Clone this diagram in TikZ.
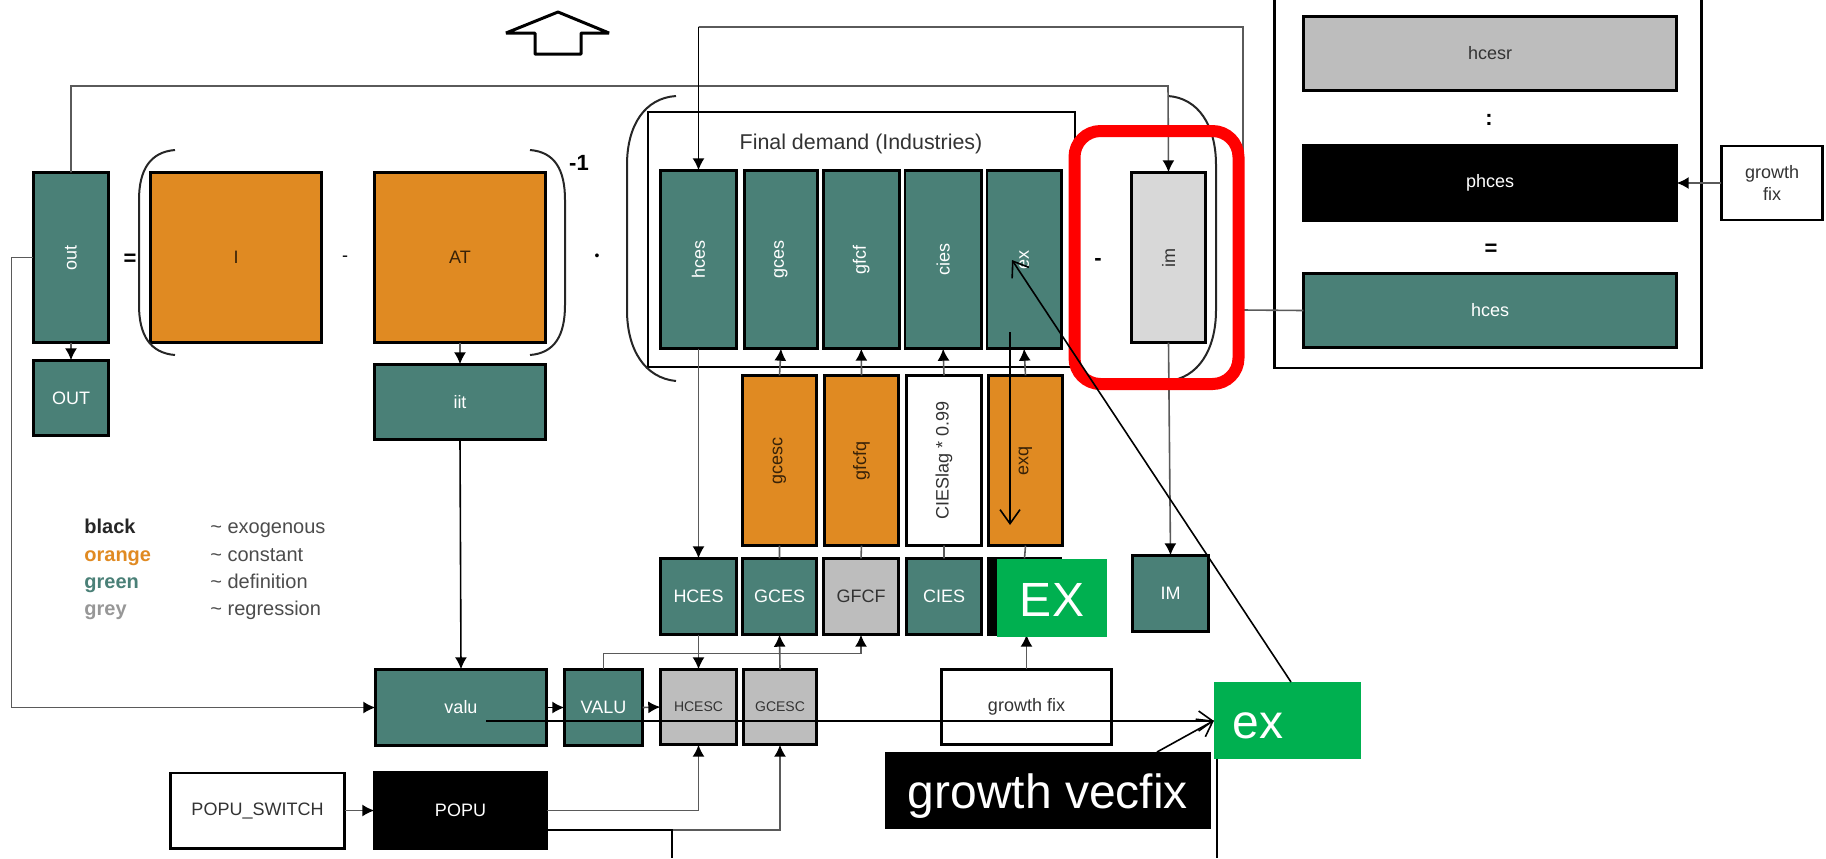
\documentclass[tikz,border=0pt]{standalone}
\usepackage{fontspec}
\setmainfont{Liberation Sans}
\definecolor{modelTeal}{RGB}{74, 128, 119}
\definecolor{modelOrange}{RGB}{224, 138, 34}
\definecolor{modelGrey}{RGB}{189, 189, 189}
\definecolor{modelLight}{RGB}{216, 216, 216}
\definecolor{patchGreen}{RGB}{0, 176, 80}
\definecolor{wireGrey}{RGB}{90, 90, 90}
\usetikzlibrary{arrows.meta, positioning}

\begin{document}
\begin{tikzpicture}[x=0.5pt, y=-0.5pt]
    \tikzset{
        box/.style={rectangle, draw=black, line width=1.3pt, outer sep=0pt, inner sep=0pt, align=center, font=\fontsize{9}{11}\selectfont},
        defbox/.style={box, fill=modelTeal, text=white},
        constbox/.style={box, fill=modelOrange, text=black!75!modelOrange},
        regbox/.style={box, fill=modelGrey, text=black!80},
        fixbox/.style={box, fill=white, text=black!80},
        exobox/.style={box, fill=black, text=white},
        patch/.style={rectangle, outer sep=0pt, inner sep=0pt, fill=patchGreen, text=white, font=\fontsize{24}{28}\selectfont},
        symb/.style={inner sep=0pt, font=\fontsize{11}{13}\selectfont\bfseries},
        legend/.style={inner sep=0pt, anchor=base west, font=\fontsize{10}{12}\selectfont},
        legendb/.style={legend, font=\fontsize{10}{12}\selectfont\bfseries},
        paren/.style={draw=black!85, line width=1pt},
        arrow/.style={draw=wireGrey, line width=0.8pt, -{Latex[length=6pt, width=6pt, color=black, fill=black]}},
        wire/.style={draw=wireGrey, line width=0.8pt},
        pen/.style={draw=black, line width=0.8pt},
        penarrow/.style={pen, -{Straight Barb[length=7pt, width=10pt]}}
    }
    \useasboundingbox (0,0) rectangle (1826,858);

    % hollow arrow on top
    \draw [black, line width=1.5pt, line join=bevel] (558,12) -- (609,33) -- (581,33) -- (581,54) -- (535,54) -- (535,33) -- (506,33) -- cycle;

    % left side of the equation
    \node [defbox, minimum width=37.7pt, minimum height=85.2pt] (out) at (71,257.5) {\rotatebox{90}{out}};
    \node [defbox, below=8.8pt of out, minimum width=37.7pt, minimum height=37.7pt] (OUT) {OUT};
    \node [constbox, minimum width=85.7pt, minimum height=85.2pt] (I) at (236,257.5) {I};
    \node [constbox, minimum width=85.7pt, minimum height=85.2pt] (AT) at (460,257.5) {AT};
    \node [defbox, below=10.8pt of AT, minimum width=85.7pt, minimum height=37.7pt] (iit) {iit};
    \node [symb] (eq1) at (130,260) {=};
    \node [symb, font=\fontsize{9}{11}\selectfont] (minus1) at (345,259) {-};
    \node [symb, font=\fontsize{7}{9}\selectfont] (dot1) at (597,257) {\textbullet};
    \node [symb] (inv) at (579,163) {-1};
    \draw [paren] (175,150) .. controls (150,152) and (139,170) .. (139,200) -- (139,305) .. controls (139,335) and (150,353) .. (175,355);
    \draw [paren] (530,150) .. controls (555,152) and (565,170) .. (565,200) -- (565,305) .. controls (565,335) and (555,353) .. (530,355);

    % final demand
    \node [box, line width=1pt, fill=white, minimum width=213.5pt, minimum height=127.5pt] (final) at (861.5,239.5) {};
    \node [inner sep=0pt, font=\fontsize{10.7}{12}\selectfont, text=black!80] (finaltxt) at (861,144) {Final demand (Industries)};
    \node [defbox, minimum width=38.2pt, minimum height=89.2pt] (hces) at (698.5,259.5) {\rotatebox{90}{hces}};
    \node [defbox, right=3.8pt of hces, minimum width=36.7pt, minimum height=89.2pt] (gces) {\rotatebox{90}{gces}};
    \node [defbox, right=2.8pt of gces, minimum width=38pt, minimum height=89.2pt] (gfcf) {\rotatebox{90}{gfcf}};
    \node [defbox, right=2.8pt of gfcf, minimum width=38.2pt, minimum height=89.2pt] (cies) {\rotatebox{90}{cies}};
    \node [defbox, right=2.8pt of cies, minimum width=37.2pt, minimum height=89.2pt] (ex) {\rotatebox{90}{ex}};
    \node [box, fill=modelLight, text=black!80, minimum width=37.2pt, minimum height=85.2pt] (im) at (1168.5,257.5) {\rotatebox{90}{im}};
    \node [symb] (minus2) at (1098,262) {-};
    \draw [paren] (676,96) .. controls (645,98) and (627,125) .. (627,165) -- (627,310) .. controls (627,350) and (645,378) .. (676,381);
    \draw [paren] (1168,96) .. controls (1198,98) and (1216,125) .. (1216,165) -- (1216,310) .. controls (1216,350) and (1198,378) .. (1168,381);

    % orange row
    \node [constbox, minimum width=37.2pt, minimum height=85.2pt] (gcesc) at (779.5,460.5) {\rotatebox{90}{gcesc}};
    \node [constbox, right=3.8pt of gcesc, minimum width=37.2pt, minimum height=85.2pt] (gfcfq) {\rotatebox{90}{gfcfq}};
    \node [fixbox, right=3.8pt of gfcfq, minimum width=37.7pt, minimum height=85.2pt] (lag) {\rotatebox{90}{CIESlag * 0.99}};
    \node [constbox, right=3.3pt of lag, minimum width=37.2pt, minimum height=85.2pt] (exq) {\rotatebox{90}{exq}};

    % upper case row
    \node [defbox, minimum width=38.2pt, minimum height=38.2pt] (HCES) at (698.5,596.5) {HCES};
    \node [defbox, right=2.8pt of HCES, minimum width=37.2pt, minimum height=38.2pt] (GCES) {GCES};
    \node [regbox, right=3.3pt of GCES, minimum width=37.7pt, minimum height=38.2pt] (GFCF) {GFCF};
    \node [defbox, right=3.8pt of GFCF, minimum width=37.7pt, minimum height=38.2pt] (CIES) {CIES};
    \node [exobox, right=3.3pt of CIES, minimum width=36.2pt, minimum height=38.2pt] (EX) {};
    \node [defbox, minimum width=38.2pt, minimum height=38.2pt] (IM) at (1170.5,593.5) {IM};

    % bottom rows
    \node [defbox, minimum width=85.7pt, minimum height=38.2pt] (valu) at (461,707.5) {valu};
    \node [defbox, right=8.8pt of valu, minimum width=39.2pt, minimum height=38.2pt] (VALU) {VALU};
    \node [regbox, minimum width=38.2pt, minimum height=37.7pt, font=\fontsize{7}{9}\selectfont] (HCESC) at (698.5,707) {HCESC};
    \node [regbox, right=3.3pt of HCESC, minimum width=36.7pt, minimum height=37.7pt, font=\fontsize{7}{9}\selectfont] (GCESC) {GCESC};
    \node [fixbox, minimum width=85.2pt, minimum height=37.7pt] (growth) at (1026.5,707) {growth fix};
    \node [exobox, minimum width=86.2pt, minimum height=38.2pt] (POPU) at (460.5,810.5) {POPU};
    \node [fixbox, left=14.8pt of POPU, minimum width=87.2pt, minimum height=37.7pt] (switch) {POPU\_SWITCH};

    % legend
    \node [legendb, text=black!85] (lblack) at (84,533) {black};
    \node [legendb, text=modelOrange] (lorange) at (84,561) {orange};
    \node [legendb, text=modelTeal] (lgreen) at (84,588) {green};
    \node [legendb, text=modelGrey!80!black] (lgrey) at (84,615) {grey};
    \node [legend, text=black!70] (texo) at (210,533) {\textasciitilde{} exogenous};
    \node [legend, text=black!70] (tcon) at (210,561) {\textasciitilde{} constant};
    \node [legend, text=black!70] (tdef) at (210,588) {\textasciitilde{} definition};
    \node [legend, text=black!70] (treg) at (210,615) {\textasciitilde{} regression};

    % household consumption frame
    \node [box, fill=white, minimum width=213.7pt, minimum height=186.5pt] (frame) at (1488,181.5) {};
    \node [regbox, minimum width=186.7pt, minimum height=37.2pt] (hcesr) at (1490,53.5) {hcesr};
    \node [exobox, minimum width=186.7pt, minimum height=37.7pt] (phces) at (1490,183) {phces};
    \node [defbox, minimum width=186.7pt, minimum height=37.2pt] (hcesb) at (1490,310.5) {hces};
    \node [symb] (colon) at (1489,120) {:};
    \node [symb] (eq2) at (1491,250) {=};
    \node [fixbox, minimum width=50.7pt, minimum height=37pt] (fixb) at (1772,183) {growth\\fix};

    % connectors
    \coordinate (topbus) at (1168,86);
    \coordinate (loopright) at (1243,310);
    \coordinate (looptop) at (1243,27);
    \coordinate (looptarget) at (698.5,27);
    \draw [arrow] (out.west) -- ++(-22,0) |- (valu.west);
    \draw [arrow] (out.north) |- (topbus) -- (im.north);
    \draw [wire] (hcesb.west) -- (loopright) -- (looptop) -- (looptarget);
    \draw [arrow, draw=black] (looptarget) -- (hces.north);
    \draw [arrow] (out.south) -- (OUT.north);
    \draw [arrow] (AT.south) -- (iit.north);
    \draw [arrow, draw=black] (iit.south) -- (valu.north);
    \draw [arrow] (hces.south) -- (HCES.north);
    \draw [arrow] (gcesc.north) -- (gces.south);
    \draw [arrow] (gfcfq.north) -- (gfcf.south);
    \draw [arrow] (lag.north) -- (cies.south);
    \draw [arrow] (exq.north) -- (ex.south);
    \draw [wire] (gcesc.south) -- (GCES.north);
    \draw [wire] (gfcfq.south) -- (GFCF.north);
    \draw [wire] (lag.south) -- (CIES.north);
    \draw [wire] (exq.south) -- (EX.north);
    \draw [arrow] (im.south) -- (IM.north);
    \draw [arrow, draw=black] (valu.east) -- (VALU.west);
    \draw [arrow] (VALU.east) -- (HCESC.west);
    \draw [arrow] (VALU.north) -- ++(0,-16) -| (GFCF.south);
    \draw [arrow] (HCES.south) -- (HCESC.north);
    \draw [arrow] (GCESC.north) -- (GCES.south);
    \draw [arrow] (growth.north) -- (EX.south -| growth.north);
    \draw [arrow] (switch.east) -- (POPU.west);
    \draw [arrow] (fixb.west) -- (phces.east);

    \coordinate (popuin) at (534,830);
    \coordinate (popudown) at (672,858);
    \draw [arrow] (POPU.east) -| (HCESC.south);
    \draw [arrow] (popuin) -| (GCESC.south);
    \draw [pen] (popuin) -| (popudown);

    % highlight
    \node [draw=red, line width=6pt, rounded corners=13pt, inner sep=0pt, outer sep=0pt, minimum width=82pt, minimum height=126.5pt] (focus) at (1156.5,257.5) {};

    % overlays
    \node [patch, minimum width=55pt, minimum height=39pt] (EXp) at (1052,598) {\raisebox{-9pt}[0pt][0pt]{EX}};
    \node [patch, minimum width=73.5pt, minimum height=38.5pt] (exp) at (1287.5,720.5) {};
    \node [inner sep=0pt, text=white, font=\fontsize{24}{28}\selectfont] (exptxt) at (1258,726) {ex};
    \node [rectangle, fill=black, text=white, minimum width=163pt, minimum height=38.5pt, inner sep=0pt, outer sep=0pt, font=\fontsize{24}{28}\selectfont] (vecfix) at (1048,790.5) {\raisebox{-9pt}[0pt][0pt]{growth vecfix}};
    \coordinate (diagstart) at (1291,682);
    \coordinate (diagend) at (1012,260);
    \coordinate (exstart) at (1010,332);
    \coordinate (exend) at (1010,525);
    \coordinate (valustart) at (486,721);
    \coordinate (vecstart) at (1157,752);
    \coordinate (downend) at (1217,858);
    \draw [penarrow] (diagstart) -- (diagend);
    \draw [penarrow] (exstart) -- (exend);
    \draw [penarrow] (valustart) -- (valustart -| exp.west);
    \draw [penarrow] (vecstart) -- (exp.west);
    \draw [pen] (exp.south west) ++(3,0) -- (downend);
\end{tikzpicture}
\end{document}
